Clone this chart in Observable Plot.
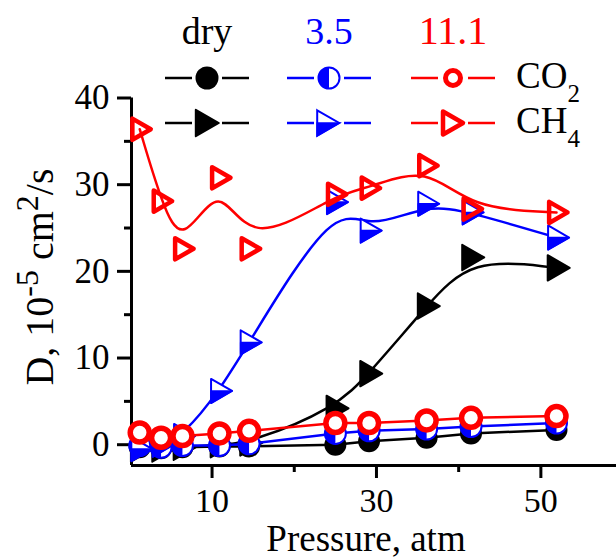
<!DOCTYPE html>
<html>
<head>
<meta charset="utf-8">
<script src="https://cdn.jsdelivr.net/npm/d3@7"></script>
<script src="https://cdn.jsdelivr.net/npm/@observablehq/plot@0.6"></script>
<style>
  html, body { margin: 0; padding: 0; background: #fff; }
  #chart { width: 616px; height: 559px; }
</style>
</head>
<body>
<div id="chart"></div>
<script>
// ---- data ----
const pressure = [1.2, 3.8, 6.4, 10.9, 14.5, 25.0, 29.1, 36.1, 41.5, 51.9];
const co2Dry  = [-0.3, -0.4, -0.3, -0.2, -0.2, 0.0, 0.4, 0.8, 1.3, 1.7];
const co2_35  = [-0.1, -0.3, -0.1, -0.1, 0.1, 1.3, 1.6, 1.8, 2.1, 2.5];
const co2_111 = [1.4, 0.8, 1.0, 1.3, 1.6, 2.5, 2.5, 2.8, 3.1, 3.3];
const ch4Dry  = [-0.5, -0.5, -0.3, 0.0, 0.2, 4.2, 8.2, 16.0, 21.6, 20.4];
const ch4_35  = [-0.5, 0.0, 1.0, 6.2, 11.8, 28.0, 24.7, 27.8, 26.8, 23.9];
const ch4_111 = [36.4, 28.1, 22.6, 30.8, 22.6, 28.9, 29.6, 32.2, 27.2, 26.8];

const groups = ["dry", "3.5", "11.1"];
const groupColors = ["#000000", "#0000ff", "#ff0000"];
const gasLabels = [["CO", "2"], ["CH", "4"]];

const xDomain = [0.2, 59.2];
const yDomain = [-2.4, 40];
const xMajor = [10, 30, 50];
const xMinor = [20, 40];
const yMajor = [0, 10, 20, 30, 40];
const yMinor = [5, 15, 25, 35];
const xLabel = "Pressure, atm";

const rows = ys => pressure.map((p, i) => ({p, d: ys[i]}));

// ---- custom symbols ----
const triRight = {draw(ctx, size) {
  const r = Math.sqrt(size / Math.PI);
  ctx.moveTo(-0.8 * r, -1.15 * r); ctx.lineTo(1.2 * r, 0); ctx.lineTo(-0.8 * r, 1.15 * r); ctx.closePath();
}};
const triRightLower = {draw(ctx, size) {
  const r = Math.sqrt(size / Math.PI);
  ctx.moveTo(-0.8 * r, 0); ctx.lineTo(1.2 * r, 0); ctx.lineTo(-0.8 * r, 1.15 * r); ctx.closePath();
}};
const halfLeft = {draw(ctx, size) {
  const r = Math.sqrt(size / Math.PI);
  ctx.moveTo(0, -r); ctx.arc(0, 0, r, -Math.PI / 2, Math.PI / 2, true); ctx.closePath();
}};

const [cK, cB, cR] = groupColors;

const chart = Plot.plot({
  width: 616, height: 559,
  marginLeft: 131, marginRight: 0, marginTop: 97.5, marginBottom: 94,
  x: {domain: xDomain, axis: null},
  y: {domain: yDomain, axis: null},
  style: {fontFamily: "'Liberation Serif', 'Times New Roman', serif", background: "#fff", color: "#000", overflow: "visible"},
  marks: [
    // axes
    Plot.ruleY([yDomain[0]], {stroke: "#000", strokeWidth: 3}),
    Plot.ruleX([xDomain[0]], {stroke: "#000", strokeWidth: 3}),
    Plot.axisX(xMajor, {anchor: "bottom", tickSize: 13, tickPadding: 9, fontSize: 34, strokeWidth: 3, label: null}),
    Plot.axisX(xMinor, {anchor: "bottom", tickSize: 7, tickFormat: () => "", strokeWidth: 3, label: null}),
    Plot.axisY(yMajor, {anchor: "left", tickSize: 14, tickPadding: 8, fontSize: 35, strokeWidth: 3, label: null}),
    Plot.axisY(yMinor, {anchor: "left", tickSize: 7, tickFormat: () => "", strokeWidth: 3, label: null}),
    Plot.text([xLabel], {frameAnchor: "bottom", dx: -8, dy: 85, fontSize: 37, lineAnchor: "bottom", fill: "#000"}),

    // dry (black)
    Plot.line(rows(co2Dry), {x: "p", y: "d", stroke: cK, strokeWidth: 2.5}),
    Plot.line(rows(ch4Dry), {x: "p", y: "d", stroke: cK, strokeWidth: 2.5, curve: "basis"}),
    Plot.dot(rows(co2Dry), {x: "p", y: "d", r: 11, symbol: "circle", fill: cK, stroke: "none"}),
    Plot.dot(rows(ch4Dry), {x: "p", y: "d", r: 11, symbol: triRight, fill: cK, stroke: cK, strokeWidth: 2, strokeLinejoin: "round"}),

    // 3.5 (blue)
    Plot.line(rows(co2_35), {x: "p", y: "d", stroke: cB, strokeWidth: 2.5}),
    Plot.line(rows(ch4_35), {x: "p", y: "d", stroke: cB, strokeWidth: 2.5, curve: "basis"}),
    Plot.dot(rows(co2_35), {x: "p", y: "d", r: 10.5, symbol: "circle", fill: "#fff", stroke: cB, strokeWidth: 2}),
    Plot.dot(rows(co2_35), {x: "p", y: "d", r: 10.5, symbol: halfLeft, fill: cB, stroke: "none"}),
    Plot.dot(rows(ch4_35), {x: "p", y: "d", r: 10.5, symbol: triRight, fill: "#fff", stroke: cB, strokeWidth: 2, strokeLinejoin: "round"}),
    Plot.dot(rows(ch4_35), {x: "p", y: "d", r: 10.5, symbol: triRightLower, fill: cB, stroke: cB, strokeWidth: 1.5, strokeLinejoin: "round"}),

    // 11.1 (red)
    Plot.line(rows(co2_111), {x: "p", y: "d", stroke: cR, strokeWidth: 2.5}),
    Plot.line(rows(ch4_111), {x: "p", y: "d", stroke: cR, strokeWidth: 2.5, curve: "basis"}),
    Plot.dot(rows(co2_111), {x: "p", y: "d", r: 9.5, symbol: "circle", fill: "#fff", stroke: cR, strokeWidth: 5.5}),
    Plot.dot(rows(ch4_111), {x: "p", y: "d", r: 9.2, symbol: triRight, fill: "none", stroke: cR, strokeWidth: 4.5, strokeLinejoin: "round"})
  ]
});

const svg = d3.select(chart);

// ---- y-axis label with superscripts ----
const yl = svg.append("text")
  .attr("transform", "translate(53,277) rotate(-90)")
  .attr("text-anchor", "middle")
  .style("font-size", "40px")
  .attr("fill", "#000");
yl.append("tspan").text("D, 10");
yl.append("tspan").attr("dy", -15).style("font-size", "32px").text("-5");
yl.append("tspan").attr("dy", 15).text(" cm");
yl.append("tspan").attr("dy", -15).style("font-size", "32px").text("2");
yl.append("tspan").attr("dy", 15).text("/s");

// ---- legend ----
const lg = svg.append("g").attr("class", "legend");
const colX = [207, 329, 453];
const rowY = [78, 123];
const headFont = [38, 38, 40];
groups.forEach((g, i) => {
  lg.append("text").attr("x", colX[i]).attr("y", 44).attr("text-anchor", "middle")
    .style("font-size", headFont[i] + "px").attr("fill", groupColors[i]).text(g);
  rowY.forEach(y => {
    lg.append("line").attr("x1", colX[i] - 42).attr("x2", colX[i] - 15).attr("y1", y).attr("y2", y)
      .attr("stroke", groupColors[i]).attr("stroke-width", 2.5);
    lg.append("line").attr("x1", colX[i] + 15).attr("x2", colX[i] + 42).attr("y1", y).attr("y2", y)
      .attr("stroke", groupColors[i]).attr("stroke-width", 2.5);
  });
});
const sym = (type, r) => d3.symbol().type(type).size(Math.PI * r * r)();
// CO2 row
lg.append("path").attr("transform", `translate(${colX[0]},${rowY[0]})`).attr("d", sym(d3.symbolCircle, 11.5)).attr("fill", cK);
lg.append("path").attr("transform", `translate(${colX[1]},${rowY[0]})`).attr("d", sym(d3.symbolCircle, 10.5)).attr("fill", "#fff").attr("stroke", cB).attr("stroke-width", 2);
lg.append("path").attr("transform", `translate(${colX[1]},${rowY[0]})`).attr("d", sym(halfLeft, 10.5)).attr("fill", cB);
lg.append("path").attr("transform", `translate(${colX[2]},${rowY[0]})`).attr("d", sym(d3.symbolCircle, 7.5)).attr("fill", "#fff").attr("stroke", cR).attr("stroke-width", 5);
// CH4 row
lg.append("path").attr("transform", `translate(${colX[0] - 2},${rowY[1]})`).attr("d", sym(triRight, 11.5)).attr("fill", cK).attr("stroke", cK).attr("stroke-width", 2).attr("stroke-linejoin", "round");
lg.append("path").attr("transform", `translate(${colX[1] - 3},${rowY[1]})`).attr("d", sym(triRight, 11)).attr("fill", "#fff").attr("stroke", cB).attr("stroke-width", 2);
lg.append("path").attr("transform", `translate(${colX[1] - 3},${rowY[1]})`).attr("d", sym(triRightLower, 11)).attr("fill", cB).attr("stroke", cB).attr("stroke-width", 1.5);
lg.append("path").attr("transform", `translate(${colX[2] - 2},${rowY[1]})`).attr("d", sym(triRight, 10)).attr("fill", "none").attr("stroke", cR).attr("stroke-width", 4.5).attr("stroke-linejoin", "round");
// gas labels
rowY.forEach((y, i) => {
  const t = lg.append("text").attr("x", 516).attr("y", y + 10).attr("text-anchor", "start")
    .style("font-size", "37px").attr("fill", "#000");
  t.append("tspan").text(gasLabels[i][0]);
  t.append("tspan").attr("dy", 14).style("font-size", "25px").text(gasLabels[i][1]);
});

document.getElementById("chart").appendChild(chart);
</script>
</body>
</html>
